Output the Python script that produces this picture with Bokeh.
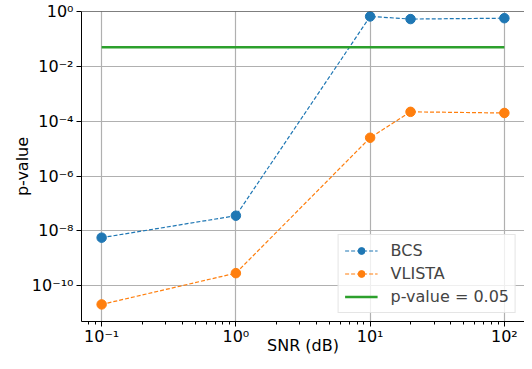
from bokeh.plotting import figure
from bokeh.models import (Range1d, FixedTicker, CustomJSTickFormatter, Legend, LegendItem, Span)
from bokeh.embed import file_html
from bokeh.resources import INLINE

# data
snr = [0.1, 1, 10, 20, 100]
bcs = [5.7e-9, 3.6e-8, 0.66, 0.53, 0.57]
vlista = [2.1e-11, 2.9e-10, 2.5e-5, 2.2e-4, 2.0e-4]
threshold = 0.05
threshold_x = [snr[0], snr[-1]]

x_ticks = [0.1, 1, 10, 100]
x_tick_labels = ["10\u207b\u00b9", "10\u2070", "10\u00b9", "10\u00b2"]
y_ticks = [1e-10, 1e-8, 1e-6, 1e-4, 1e-2, 1]
y_tick_labels = ["10\u207b\u00b9\u2070", "10\u207b\u2078", "10\u207b\u2076", "10\u207b\u2074", "10\u207b\u00b2", "10\u2070"]
x_minor = [m * d for d in [0.01, 0.1, 1, 10] for m in range(2, 10)]

FONT = "DejaVu Sans"

p = figure(width=524, height=361, x_axis_type="log", y_axis_type="log",
           x_range=Range1d(10 ** -1.15, 10 ** 2.15), y_range=Range1d(10 ** -11.3, 1),
           output_backend="svg", toolbar_location=None,
           min_border_left=81, min_border_right=0, min_border_top=11, min_border_bottom=40)
p.outline_line_color = None
p.background_fill_color = "white"
p.border_fill_color = "white"

fmt_code = """
let best = -1;
for (let i = 0; i < tvals.length; i++) {
  if (Math.abs(Math.log10(tvals[i]) - Math.log10(tick)) < 1e-6) best = i;
}
return best >= 0 ? tlabels[best] : "";
"""
xt = FixedTicker(ticks=x_ticks, minor_ticks=x_minor)
yt = FixedTicker(ticks=y_ticks, minor_ticks=[])
p.xaxis.ticker = xt
p.yaxis.ticker = yt
p.xaxis.formatter = CustomJSTickFormatter(args=dict(tvals=x_ticks, tlabels=x_tick_labels), code=fmt_code)
p.yaxis.formatter = CustomJSTickFormatter(args=dict(tvals=y_ticks, tlabels=y_tick_labels), code=fmt_code)
p.xgrid.ticker = xt
p.ygrid.ticker = yt
for g in (p.xgrid, p.ygrid):
    g.grid_line_color = "#b0b0b0"
    g.grid_line_width = 1.2

for ax in (p.xaxis, p.yaxis):
    ax.axis_line_color = "black"
    ax.axis_line_width = 1
    ax.major_tick_line_color = "black"
    ax.minor_tick_line_color = "black"
    ax.major_tick_in = 0
    ax.major_tick_out = 5
    ax.minor_tick_in = 0
    ax.minor_tick_out = 3
    ax.major_label_text_font = FONT
    ax.major_label_text_font_size = "16px"
    ax.major_label_text_color = "black"
    ax.axis_label_text_font = FONT
    ax.axis_label_text_font_size = "16px"
    ax.axis_label_text_font_style = "normal"
    ax.axis_label_text_color = "black"
    ax.axis_label_text_line_height = 1.0
    ax.major_label_text_line_height = 1.0
p.xaxis.major_label_standoff = 0
p.yaxis.major_label_standoff = 3
p.xaxis.axis_label = "SNR (dB)"
p.yaxis.axis_label = "p-value"
p.xaxis.axis_label_standoff = -13
p.yaxis.axis_label_standoff = -3

p.add_layout(Span(location=1.0, dimension="width", line_color="black", line_width=1))

l1 = p.line(snr, bcs, line_color="#1f77b4", line_width=1.2, line_dash="4 2")
s1 = p.scatter(snr, bcs, size=9.5, fill_color="#1f77b4", line_color="#1f77b4")
l2 = p.line(snr, vlista, line_color="#ff7f0e", line_width=1.2, line_dash="4 2")
s2 = p.scatter(snr, vlista, size=9.5, fill_color="#ff7f0e", line_color="#ff7f0e")
l3 = p.line(threshold_x, [threshold, threshold], line_color="#2ca02c", line_width=2.5)

legend = Legend(items=[LegendItem(label="BCS", renderers=[l1, s1]),
                       LegendItem(label="VLISTA", renderers=[l2, s2]),
                       LegendItem(label="p-value = 0.05", renderers=[l3])],
                location="bottom_right", margin=8, padding=6, spacing=4,
                glyph_width=33, glyph_height=17, label_height=17, label_standoff=13,
                label_text_font=FONT, label_text_font_size="16px",
                border_line_color="#cccccc", border_line_width=1,
                background_fill_color="white", background_fill_alpha=0.8)
p.add_layout(legend)

open("out.html", "w").write(file_html(p, INLINE))
